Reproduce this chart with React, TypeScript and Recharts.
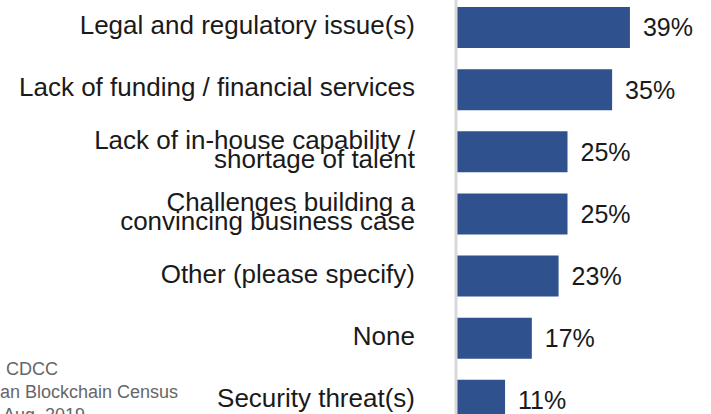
import React from "react";
import { BarChart, Bar, XAxis, YAxis, LabelList } from "recharts";

// survey: barriers to blockchain adoption (share of respondents, %)
const categories = [
  "Legal and regulatory issue(s)",
  "Lack of funding / financial services",
  "Lack of in-house capability /\nshortage of talent",
  "Challenges building a\nconvincing business case",
  "Other (please specify)",
  "None",
  "Security threat(s)",
];
const shares = [39, 35, 25, 25, 23, 17, 11];
const sourceLines = ["Source: CDCC", "Australian Blockchain Census", "Aug, 2019"];

const data = categories.map((name, i) => ({ name, share: shares[i] }));

const FONT = "'Liberation Sans', Arial, Helvetica, sans-serif";
const BAR_COLOR = "#2F528F";
const TEXT_COLOR = "#1a1a1a";

const CategoryTick = ({ x, y, payload }: any) => {
  const lines = String(payload.value).split("\n");
  const lh = 19;
  const first = y + 7 - ((lines.length - 1) * lh) / 2;
  return (
    <text x={x} y={first} textAnchor="end" fontSize={26} fill={TEXT_COLOR} fontFamily={FONT}>
      {lines.map((line, i) => (
        <tspan key={i} x={x} dy={i === 0 ? 0 : lh}>
          {line}
        </tspan>
      ))}
    </text>
  );
};

export default function App() {
  return (
    <div
      style={{
        position: "absolute",
        left: 0,
        top: 0,
        width: 711,
        height: 414,
        overflow: "hidden",
        background: "#fff",
      }}
    >
      <div style={{ position: "absolute", left: 0, top: -24 }}>
        <BarChart
          width={711}
          height={455}
          data={data}
          layout="vertical"
          margin={{ top: 20, right: 32, bottom: 0, left: 0 }}
        >
          <XAxis type="number" domain={[0, 50]} hide />
          <YAxis
            type="category"
            dataKey="name"
            width={456}
            axisLine={{ stroke: "#d9d9d9", strokeWidth: 3 }}
            tickLine={false}
            tickMargin={35}
            tick={<CategoryTick />}
            interval={0}
          />
          <Bar dataKey="share" fill={BAR_COLOR} barSize={41} isAnimationActive={false}>
            <LabelList
              dataKey="share"
              position="right"
              offset={13}
              formatter={(v: any) => `${v}%`}
              style={{ fontSize: 25, fill: TEXT_COLOR, fontFamily: FONT }}
            />
          </Bar>
        </BarChart>
      </div>
      <svg
        width={711}
        height={414}
        style={{ position: "absolute", left: 0, top: 0, pointerEvents: "none" }}
      >
        <text x={-61} y={375} fontSize={18} fill="#666" fontFamily={FONT}>
          {sourceLines[0]}
        </text>
        <text x={-60} y={398} fontSize={18} fill="#666" fontFamily={FONT}>
          {sourceLines[1]}
        </text>
        <text x={3} y={421} fontSize={18} fill="#666" fontFamily={FONT}>
          {sourceLines[2]}
        </text>
      </svg>
    </div>
  );
}
